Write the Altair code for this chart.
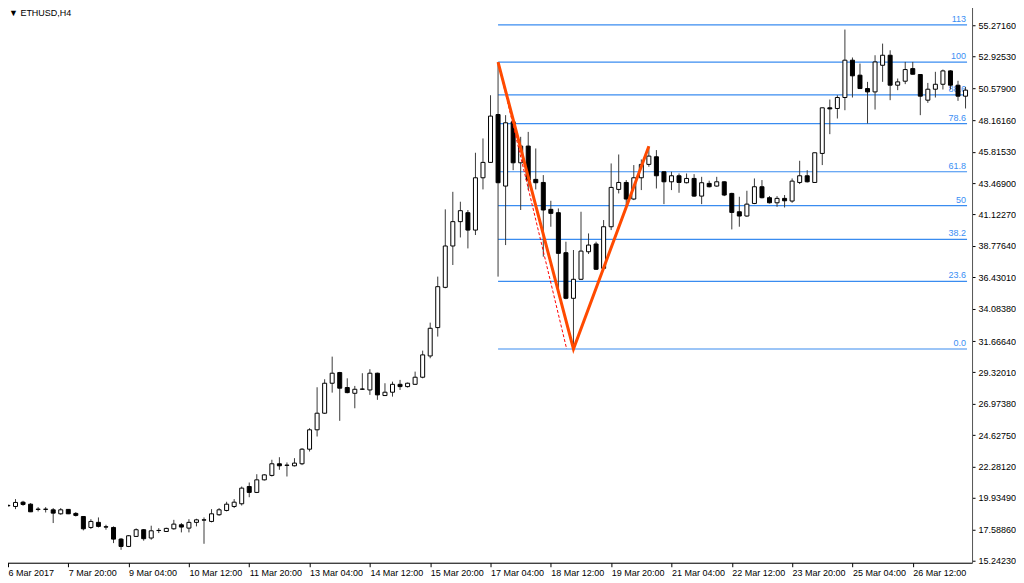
import altair as alt
import pandas as pd

FONT = "Liberation Sans"

# ---- data (ETHUSD, H4) ----
x_labels = ["6 Mar 2017", "7 Mar 20:00", "9 Mar 04:00", "10 Mar 12:00", "11 Mar 20:00",
            "13 Mar 04:00", "14 Mar 12:00", "15 Mar 20:00", "17 Mar 04:00", "18 Mar 12:00",
            "19 Mar 20:00", "21 Mar 04:00", "22 Mar 12:00", "23 Mar 20:00", "25 Mar 04:00",
            "26 Mar 12:00"]

opens = [19.35, 19.30, 19.62, 19.47, 19.10, 19.08, 19.05, 18.75, 19.08, 18.78,
         18.55, 17.73, 18.11, 17.78, 17.73, 16.86, 16.31, 17.06, 17.56, 16.94,
         17.50, 17.43, 17.63, 17.93, 17.68, 18.11, 18.28, 18.18, 18.68, 19.00,
         19.30, 19.50, 20.79, 20.35, 21.29, 21.62, 22.49, 22.37, 22.34, 22.49,
         23.58, 25.03, 26.27, 28.51, 29.31, 28.19, 27.76, 28.06, 28.01, 29.26,
         27.59, 27.84, 28.43, 28.26, 28.43, 28.96, 30.55, 32.67, 35.68, 38.77,
         40.59, 41.26, 39.96, 43.87, 45.02, 48.60, 43.25, 48.05, 44.99, 46.24,
         43.75, 43.52, 41.51, 41.26, 38.27, 34.86, 36.28, 38.34, 38.92, 37.10,
         40.21, 43.00, 43.52, 42.28, 43.87, 44.87, 45.44, 44.32, 43.57, 44.02,
         43.50, 43.82, 42.50, 43.45, 43.25, 43.57, 42.70, 41.33, 41.01, 41.95,
         43.20, 42.38, 42.00, 42.33, 42.13, 43.52, 44.02, 43.52, 45.69, 49.10,
         49.05, 49.87, 52.66, 51.54, 50.54, 50.29, 52.28, 53.03, 50.79, 51.09,
         52.03, 51.59, 49.67, 50.49, 50.86, 51.86, 50.79, 49.97]
highs = [19.45, 19.85, 19.72, 19.55, 19.25, 19.25, 19.18, 19.18, 19.10, 18.88,
         18.58, 18.35, 18.48, 17.93, 17.81, 16.94, 17.16, 17.66, 17.61, 17.86,
         17.68, 17.71, 18.30, 18.06, 18.35, 18.38, 18.48, 19.10, 19.18, 19.65,
         19.85, 20.79, 21.09, 21.71, 21.71, 22.79, 22.98, 22.59, 22.91, 23.66,
         25.15, 28.21, 28.81, 30.50, 29.36, 28.88, 28.31, 29.26, 29.56, 29.30,
         28.51, 28.63, 28.76, 28.56, 29.38, 30.95, 33.04, 36.48, 41.51, 42.82,
         42.08, 41.46, 45.74, 46.81, 50.04, 52.51, 48.55, 48.18, 46.93, 47.30,
         46.06, 44.07, 42.15, 41.58, 39.09, 38.47, 41.33, 39.71, 39.09, 40.71,
         44.94, 45.61, 43.70, 44.82, 45.24, 46.22, 45.94, 44.34, 44.32, 44.19,
         44.19, 44.14, 43.94, 43.65, 43.94, 43.60, 42.75, 42.45, 42.90, 43.82,
         43.70, 42.50, 42.50, 42.58, 43.82, 45.14, 44.44, 45.74, 49.10, 49.72,
         50.04, 54.95, 52.86, 52.41, 51.04, 53.03, 53.90, 53.40, 51.29, 52.53,
         52.53, 51.59, 50.96, 51.79, 51.96, 51.91, 51.12, 50.66]
lows = [19.28, 19.10, 19.35, 18.88, 18.93, 18.85, 18.06, 18.68, 18.73, 18.55,
        17.51, 17.61, 17.73, 17.56, 16.56, 16.06, 16.26, 17.03, 16.74, 16.81,
        17.31, 17.41, 17.56, 17.36, 17.36, 17.81, 16.51, 18.11, 18.60, 18.93,
        19.18, 19.37, 19.99, 20.30, 21.24, 21.54, 22.04, 21.54, 22.29, 22.39,
        23.41, 24.53, 26.22, 27.81, 25.70, 27.76, 26.64, 28.01, 27.64, 27.27,
        27.56, 27.51, 28.01, 28.19, 28.38, 28.88, 30.38, 32.00, 35.61, 37.35,
        39.41, 38.59, 39.59, 43.00, 44.99, 36.48, 38.84, 44.44, 41.46, 42.95,
        43.00, 37.97, 40.21, 35.36, 34.79, 31.07, 36.23, 38.17, 36.98, 37.03,
        39.96, 42.70, 41.83, 42.20, 42.95, 44.69, 43.07, 41.90, 42.95, 42.75,
        43.45, 42.45, 41.90, 43.15, 43.20, 42.50, 40.01, 40.21, 40.96, 41.90,
        42.33, 41.95, 41.70, 41.65, 42.00, 43.40, 43.52, 43.50, 44.82, 47.13,
        48.30, 48.92, 49.87, 50.54, 47.93, 48.97, 51.04, 49.67, 50.42, 50.87,
        51.59, 48.55, 49.47, 49.87, 50.47, 50.47, 49.62, 49.05]
closes = [19.38, 19.60, 19.45, 18.90, 19.08, 19.10, 18.80, 19.05, 18.75, 18.63,
          17.63, 18.18, 17.81, 17.76, 16.86, 16.31, 17.11, 17.56, 16.89, 17.48,
          17.51, 17.66, 17.98, 17.76, 18.11, 18.30, 18.30, 18.75, 19.05, 19.47,
          19.62, 20.67, 20.35, 21.29, 21.66, 22.49, 22.34, 22.39, 22.54, 23.58,
          25.03, 26.27, 28.51, 29.26, 28.14, 27.81, 28.06, 28.08, 29.26, 27.64,
          27.84, 28.43, 28.26, 28.51, 28.96, 30.63, 32.62, 35.73, 38.77, 40.59,
          41.41, 39.96, 43.87, 45.02, 48.48, 43.50, 47.98, 44.99, 46.24, 43.70,
          43.50, 41.46, 41.21, 38.22, 34.86, 36.28, 38.39, 38.84, 37.03, 40.21,
          43.15, 43.52, 42.28, 43.87, 44.87, 45.49, 44.02, 43.57, 44.02, 43.52,
          43.82, 42.50, 43.50, 43.20, 43.57, 42.58, 41.28, 41.01, 41.90, 43.20,
          42.38, 42.00, 42.33, 42.15, 43.62, 44.02, 43.57, 45.74, 49.10, 49.02,
          49.87, 52.66, 51.49, 50.54, 50.29, 52.53, 53.03, 50.79, 51.04, 51.96,
          51.61, 49.97, 50.49, 50.86, 51.86, 50.79, 49.97, 50.42]

y_ticks = [15.24230, 17.58860, 19.93490, 22.28120, 24.62750, 26.97380, 29.32010,
           31.66640, 34.08380, 36.43010, 38.77640, 41.12270, 43.46900, 45.81530,
           48.16160, 50.57900, 52.92530, 55.27160]

fib_pcts = [0.0, 23.6, 38.2, 50.0, 61.8, 78.6, 88.6, 100.0, 113.0]
fib_texts = ["0.0", "23.6", "38.2", "50", "61.8", "78.6", "88.6", "100", "113"]
fib_low, fib_high = 31.07, 52.51
fib_start_bar = 65

zigzag_bar = [65, 75, 85]
zigzag_price = [52.51, 31.07, 46.22]

trend_bar = [65, 74.1]
trend_price = [52.51, 31.07]

X_MIN, X_MAX = -0.26, 127.2
Y_MIN, Y_MAX = 15.093, 57.063

# ---- tables ----
n = len(opens)
bars = pd.DataFrame({"bar": list(range(n)), "open": opens, "high": highs,
                     "low": lows, "close": closes})
fib = pd.DataFrame({
    "start": [fib_start_bar] * len(fib_pcts),
    "end": [X_MAX] * len(fib_pcts),
    "price": [fib_low + p / 100.0 * (fib_high - fib_low) for p in fib_pcts],
    "label": fib_texts,
})
zig = pd.DataFrame({"bar": zigzag_bar, "price": zigzag_price, "o": [0, 1, 2]})
trend = pd.DataFrame({"bar": trend_bar, "price": trend_price, "o": [0, 1]})

xs = alt.Scale(domain=[X_MIN, X_MAX], nice=False, zero=False)
ys = alt.Scale(domain=[Y_MIN, Y_MAX], nice=False, zero=False)

label_array = "[" + ",".join("'" + s + "'" for s in x_labels) + "]"
x_axis = alt.Axis(values=[i * 8 for i in range(len(x_labels))],
                  labelExpr=label_array + "[round(datum.value / 8)]",
                  orient="bottom", tickSize=4, labelAlign="left", labelBaseline="top",
                  labelPadding=2, grid=False, title=None,
                  domainColor="black", tickColor="black", labelColor="black",
                  labelFont=FONT, labelFontSize=9, labelOverlap=False, labelFlush=False)
y_axis = alt.Axis(values=y_ticks, format=".5f", orient="right", tickSize=3,
                  labelPadding=3, grid=False, title=None, domainColor="#555555",
                  tickColor="black", labelColor="black", labelFont=FONT,
                  labelFontSize=9, labelOverlap=False, labelFlush=False,
                  labelBaseline="middle")

FIB_COLOR = "#3a8cf0"

fib_lines = alt.Chart(fib).mark_rule(color=FIB_COLOR, strokeWidth=1.2).encode(
    x=alt.X("start:Q", scale=xs, axis=x_axis),
    x2="end:Q",
    y=alt.Y("price:Q", scale=ys, axis=y_axis),
)
fib_labels = alt.Chart(fib).mark_text(
    color="#3a8ef4", font=FONT, fontSize=9, align="right", baseline="bottom",
    dx=-1, dy=-1
).encode(
    x=alt.X("end:Q", scale=xs, axis=x_axis),
    y=alt.Y("price:Q", scale=ys, axis=y_axis),
    text="label:N",
)
wicks = alt.Chart(bars).mark_rule(color="#3a3a3a", strokeWidth=1).encode(
    x=alt.X("bar:Q", scale=xs, axis=x_axis),
    y=alt.Y("low:Q", scale=ys, axis=y_axis),
    y2="high:Q",
)
bodies = alt.Chart(bars).mark_bar(size=4, stroke="black", strokeWidth=1).encode(
    x=alt.X("bar:Q", scale=xs, axis=x_axis),
    y=alt.Y("open:Q", scale=ys, axis=y_axis),
    y2="close:Q",
    fill=alt.condition("datum.close >= datum.open", alt.value("white"), alt.value("black")),
)
trend_line = alt.Chart(trend).mark_line(color="red", strokeWidth=1, strokeDash=[3, 2]).encode(
    x=alt.X("bar:Q", scale=xs, axis=x_axis),
    y=alt.Y("price:Q", scale=ys, axis=y_axis),
    order="o:Q",
)
zigzag = alt.Chart(zig).mark_line(color="#ff4a00", strokeWidth=3).encode(
    x=alt.X("bar:Q", scale=xs, axis=x_axis),
    y=alt.Y("price:Q", scale=ys, axis=y_axis),
    order="o:Q",
)
title = alt.Chart(pd.DataFrame({"t": ["\u25bc ETHUSD,H4"]})).mark_text(
    font=FONT, fontSize=9, align="left", baseline="top", color="black"
).encode(x=alt.value(8), y=alt.value(8), text="t:N")

base = alt.layer(fib_lines, fib_labels, wicks, bodies, trend_line, zigzag, title).properties(
    width=972, height=562
).configure_view(stroke="black", strokeWidth=1).configure(background="white")

try:
    chart = base.properties(padding={"left": -7, "top": -7, "right": 0, "bottom": 0})
    chart.to_dict()
except Exception:
    chart = base.properties(padding=0)

chart.save("out.html", embed_options={"renderer": "svg", "actions": False})
